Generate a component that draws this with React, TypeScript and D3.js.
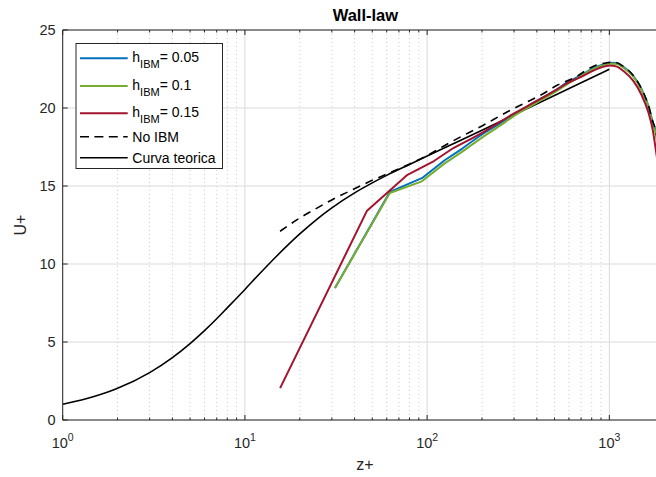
import React from "react";
import * as d3 from "d3";

// ---- data ----
const xTickExps = [0, 1, 2, 3];
const yTicks = [0, 5, 10, 15, 20, 25];

const theoZ = [1, 1.5, 2, 3, 4, 5, 6, 7, 8, 10, 12, 15, 20, 25, 30, 40, 50, 60, 80, 100, 150, 200, 300, 500, 700, 1000];
const theoU = [1.01, 1.52, 2.03, 3.04, 4.0, 4.9, 5.73, 6.49, 7.19, 8.37, 9.36, 10.53, 11.93, 12.9, 13.6, 14.56, 15.2, 15.68, 16.38, 16.92, 17.89, 18.58, 19.56, 20.8, 21.62, 22.48];

const noIbmZ = [15.6, 20, 25, 31, 38, 48.6, 61, 78, 100, 125, 150, 200, 276, 341, 421, 520, 656, 809, 970, 1050, 1200, 1350, 1500, 1640, 1730, 1800, 1850, 1900];
const noIbmU = [12.1, 12.95, 13.6, 14.2, 14.7, 15.3, 15.8, 16.35, 16.95, 17.6, 18.1, 18.85, 19.76, 20.3, 20.83, 21.47, 22.0, 22.65, 22.9, 22.95, 22.65, 22.1, 21.25, 20.15, 19.15, 18.5, 17.6, 16.4];

const h005Z = [31.2, 62.4, 93.6, 124.8, 156, 200, 250, 300, 400, 500, 600, 700, 800, 900, 1000, 1100, 1200, 1350, 1500, 1640, 1730, 1800, 1850, 1900];
const h005U = [8.46, 14.62, 15.5, 16.65, 17.4, 18.3, 19.0, 19.6, 20.45, 21.1, 21.7, 22.1, 22.5, 22.75, 22.9, 22.88, 22.62, 22.08, 21.22, 20.12, 19.1, 18.45, 17.55, 16.35];

const h01Z = [31.2, 62.4, 93.6, 124.8, 156, 200, 250, 300, 400, 500, 600, 700, 800, 900, 1000, 1100, 1200, 1350, 1500, 1640, 1730, 1800, 1850, 1900];
const h01U = [8.46, 14.55, 15.3, 16.45, 17.2, 18.1, 18.85, 19.5, 20.35, 21.0, 21.6, 22.05, 22.45, 22.7, 22.85, 22.82, 22.56, 22.02, 21.15, 20.05, 19.0, 18.3, 17.4, 16.2];

const h015Z = [15.6, 46.8, 78, 109, 140, 200, 250, 300, 400, 500, 600, 700, 800, 900, 1000, 1100, 1200, 1350, 1500, 1640, 1730, 1800, 1850, 1900];
const h015U = [2.04, 13.42, 15.72, 16.6, 17.45, 18.4, 19.1, 19.65, 20.45, 21.1, 21.65, 22.0, 22.35, 22.6, 22.72, 22.65, 22.35, 21.75, 20.85, 19.7, 18.6, 17.3, 16.3, 15.0];

const legendLabels = ["0.05", "0.1", "0.15"];

const W = 656, H = 477;
const FONT = "'Liberation Sans', Arial, Helvetica, sans-serif";

export default function App() {
  const left = 62.7, right = 664.2, top = 30, bottom = 420;
  const x = d3.scaleLog().domain([1, 2000]).range([left, right]);
  const y = d3.scaleLinear().domain([0, 25]).range([bottom, top]);

  const smooth = d3
    .line<[number, number]>()
    .x((d) => x(d[0]))
    .y((d) => y(d[1]))
    .curve(d3.curveMonotoneX);
  const straight = d3
    .line<[number, number]>()
    .x((d) => x(d[0]))
    .y((d) => y(d[1]));
  const zip = (a: number[], b: number[]) => a.map((v, i) => [v, b[i]] as [number, number]);
  // colored series: straight segments near the wall, smooth in the outer part
  const mixed = (a: number[], b: number[], nStraight: number) => {
    const pts = zip(a, b);
    const p1 = straight(pts.slice(0, nStraight + 1)) || "";
    const p2 = smooth(pts.slice(nStraight)) || "";
    return p1 + p2.replace(/^M/, "L");
  };

  const minor: number[] = [];
  for (let e = 0; e < 4; e++) {
    for (let m = 2; m <= 9; m++) {
      const v = m * Math.pow(10, e);
      if (v < 2000) minor.push(v);
    }
  }
  const major = xTickExps.map((e) => Math.pow(10, e));

  const axisColor = "#262626";
  const series = [
    { z: h005Z, u: h005U, color: "#0072BD", n: 4 },
    { z: h01Z, u: h01U, color: "#77AC30", n: 4 },
    { z: h015Z, u: h015U, color: "#A2142F", n: 4 },
  ];

  const lgX = 76, lgY = 43.5, lgW = 146.5, lgH = 125;
  const rowY = [58.3, 86, 113.3, 136.7, 157.7];

  return (
    <svg
      width={W}
      height={H}
      style={{ position: "absolute", left: 0, top: 0, background: "#fff" }}
      fontFamily={FONT}
    >
      <defs>
        <clipPath id="plotclip">
          <rect x={left} y={top} width={right - left} height={bottom - top} />
        </clipPath>
      </defs>
      <rect x={0} y={0} width={W} height={H} fill="#fff" />
      {/* minor grid */}
      {minor.map((v) => (
        <line key={"mg" + v} x1={x(v)} x2={x(v)} y1={top} y2={bottom} stroke="#c0c0c0" strokeWidth={0.8} strokeDasharray="1,3" />
      ))}
      {/* major grid */}
      {major.map((v) => (
        <line key={"Mg" + v} x1={x(v)} x2={x(v)} y1={top} y2={bottom} stroke="#dadada" strokeWidth={1} />
      ))}
      {yTicks.map((v) => (
        <line key={"yg" + v} x1={left} x2={right} y1={y(v)} y2={y(v)} stroke="#dadada" strokeWidth={1} />
      ))}

      {/* curves */}
      <g clipPath="url(#plotclip)" fill="none">
        <path d={smooth(zip(theoZ, theoU)) || ""} stroke="#000" strokeWidth={1.6} />
        {series.map((s, i) => (
          <path key={i} d={mixed(s.z, s.u, s.n)} stroke={s.color} strokeWidth={2} strokeLinejoin="round" />
        ))}
        <path d={smooth(zip(noIbmZ, noIbmU)) || ""} stroke="#000" strokeWidth={1.6} strokeDasharray="8,6" />
      </g>

      {/* axes */}
      <line x1={left} x2={right} y1={bottom} y2={bottom} stroke={axisColor} strokeWidth={1} />
      <line x1={left} x2={right} y1={top} y2={top} stroke={axisColor} strokeWidth={1} />
      <line x1={left} x2={left} y1={top} y2={bottom} stroke={axisColor} strokeWidth={1} />
      {major.map((v) => (
        <g key={"mt" + v}>
          <line x1={x(v)} x2={x(v)} y1={bottom} y2={bottom - 5} stroke={axisColor} />
          <line x1={x(v)} x2={x(v)} y1={top} y2={top + 5} stroke={axisColor} />
        </g>
      ))}
      {minor.map((v) => (
        <g key={"nt" + v}>
          <line x1={x(v)} x2={x(v)} y1={bottom} y2={bottom - 2.5} stroke={axisColor} />
          <line x1={x(v)} x2={x(v)} y1={top} y2={top + 2.5} stroke={axisColor} />
        </g>
      ))}
      {yTicks.map((v) => (
        <g key={"yt" + v}>
          <line x1={left} x2={left + 5} y1={y(v)} y2={y(v)} stroke={axisColor} />
          <text x={left - 7} y={y(v) + 5} textAnchor="end" fontSize={14.5} fill={axisColor}>
            {v}
          </text>
        </g>
      ))}
      {xTickExps.map((e) => (
        <text key={"xl" + e} x={x(Math.pow(10, e))} y={448} textAnchor="middle" fontSize={14.5} fill={axisColor}>
          10
          <tspan fontSize={10.5} dy={-7}>
            {e}
          </tspan>
        </text>
      ))}

      {/* labels */}
      <text x={(left + right) / 2 + 2} y={21} textAnchor="middle" fontSize={16.5} fontWeight="bold" fill="#000">
        Wall-law
      </text>
      <text x={365} y={470} textAnchor="middle" fontSize={16} fill={axisColor}>
        z+
      </text>
      <text transform={`translate(26,${(top + bottom) / 2}) rotate(-90)`} textAnchor="middle" fontSize={16} fill={axisColor}>
        U+
      </text>

      {/* legend */}
      <rect x={lgX} y={lgY} width={lgW} height={lgH} fill="#fff" stroke={axisColor} strokeWidth={1} />
      {series.map((s, i) => (
        <g key={"lg" + i}>
          <line x1={80} x2={127.7} y1={rowY[i]} y2={rowY[i]} stroke={s.color} strokeWidth={2} />
          <text x={132.3} y={rowY[i] + 3.5} fontSize={14} fill="#000">
            h
            <tspan fontSize={11} dy={6.5}>IBM</tspan>
            <tspan dy={-6.5}>= {legendLabels[i]}</tspan>
          </text>
        </g>
      ))}
      <line x1={80} x2={127.7} y1={rowY[3]} y2={rowY[3]} stroke="#000" strokeWidth={1.6} strokeDasharray="9,5.4" />
      <text x={132.3} y={rowY[3] + 5} fontSize={14} fill="#000">No IBM</text>
      <line x1={80} x2={127.7} y1={rowY[4]} y2={rowY[4]} stroke="#000" strokeWidth={1.6} />
      <text x={132.3} y={rowY[4] + 5} fontSize={14} fill="#000">Curva teorica</text>
    </svg>
  );
}
